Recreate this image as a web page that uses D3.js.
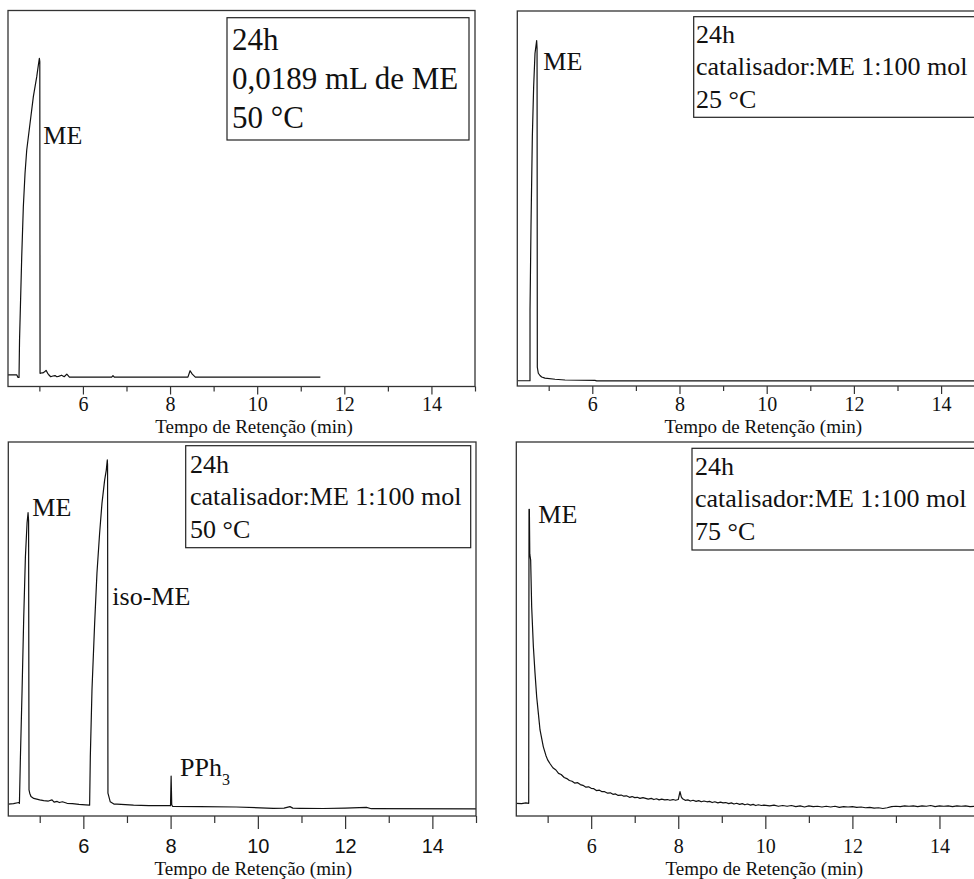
<!DOCTYPE html>
<html>
<head>
<meta charset="utf-8">
<script src="https://cdnjs.cloudflare.com/ajax/libs/d3/7.8.5/d3.min.js"></script>
<style>
   body { margin: 0; background: #fff; }
   svg { display: block; }
   .frame { fill: none; stroke: #333; stroke-width: 1.3; }
   .trace { fill: none; stroke: #111; stroke-width: 1.2; stroke-linejoin: round; }
   .legendBox { fill: #fff; stroke: #222; stroke-width: 1.2; }
   .axis line { stroke: #333; stroke-width: 1.2; }
</style>
</head>
<body>
<div id="chart"></div>
<script>

// x axis (retention time, min)
const xDomain = [4.28, 15]
const majorTicks = [6, 8, 10, 12, 14]
const minorTicks = [5, 7, 9, 11, 13, 15]
const axisTitle = "Tempo de Retenção (min)"

// legends
const legendA = ["24h", "0,0189 mL de ME", "50 °C"]
const legendB = ["24h", "catalisador:ME 1:100 mol", "25 °C"]
const legendC = ["24h", "catalisador:ME 1:100 mol", "50 °C"]
const legendD = ["24h", "catalisador:ME 1:100 mol", "75 °C"]

// chromatograms: [time (min), signal (% of frame height)]
const traceA = [
   [4.28, 3.1], [4.48, 3.1], [4.51, 2.4], [4.533, 2.4], [4.545, 12.4], [4.595, 34.5],
   [4.632, 47.8], [4.671, 56.7], [4.71, 62.9], [4.786, 70.0], [4.862, 77.1], [4.94, 82.4],
   [4.977, 85.5], [5.0, 87.3], [5.01, 86.4], [5.016, 3.5], [5.05, 3.6], [5.08, 3.6],
   [5.12, 3.9], [5.154, 4.3], [5.19, 3.5], [5.21, 3.2], [5.26, 2.6], [5.31, 2.8],
   [5.36, 2.9], [5.40, 2.6], [5.44, 2.7], [5.51, 3.0], [5.57, 2.6], [5.63, 3.3],
   [5.69, 2.5], [6.66, 2.5], [6.69, 2.9], [6.72, 2.5], [8.41, 2.5], [8.46, 4.2],
   [8.51, 3.3], [8.58, 2.5], [11.45, 2.5]
]

const traceB = [
   [4.28, 1.4], [4.571, 1.4], [4.572, 20.3], [4.594, 42.5], [4.625, 66.5], [4.655, 79.8],
   [4.686, 88.7], [4.724, 92.1], [4.733, 90.0], [4.739, 5.0], [4.762, 3.4], [4.80, 2.8],
   [4.839, 2.4], [4.915, 2.1], [5.145, 1.8], [5.374, 1.6], [6.06, 1.5], [6.1, 1.35],
   [15, 1.35]
]

const traceC = [
   [4.28, 3.2], [4.40, 3.3], [4.52, 3.6], [4.535, 3.4], [4.558, 15.9], [4.596, 33.7],
   [4.634, 53.3], [4.672, 69.3], [4.71, 78.3], [4.733, 81.1], [4.745, 79.0], [4.755, 7.0],
   [4.771, 6.1], [4.80, 5.2], [4.863, 4.7], [5.0, 4.3], [5.092, 4.1], [5.2, 4.0],
   [5.282, 4.3], [5.33, 3.7], [5.40, 3.9], [5.45, 3.6], [5.52, 3.8], [5.626, 3.4],
   [5.75, 3.3], [5.9, 3.1], [6.05, 3.0], [6.144, 2.9], [6.16, 15.9], [6.198, 33.7],
   [6.259, 51.5], [6.312, 64.9], [6.373, 75.6], [6.427, 83.6], [6.488, 89.8], [6.526, 92.5],
   [6.549, 95.2], [6.555, 94.0], [6.564, 6.1], [6.617, 3.8], [6.70, 3.2], [6.77, 3.2],
   [7.151, 2.9], [7.5, 2.8], [7.914, 2.75], [7.998, 2.75], [8.012, 10.7], [8.026, 3.0],
   [8.044, 2.6], [8.677, 2.5], [9.5, 2.4], [10.355, 2.05], [10.6, 2.1], [10.736, 2.5],
   [10.8, 2.1], [10.965, 2.05], [11.5, 2.0], [12.0, 2.1], [12.49, 2.3], [12.6, 1.95],
   [15.0, 1.9]
]

const traceD = [
   [4.28, 3.4], [4.40, 3.3], [4.50, 3.5], [4.565, 3.4], [4.572, 82.0], [4.58, 82.0],
   [4.59, 70.0], [4.61, 68.4], [4.633, 56.0], [4.672, 45.3], [4.71, 38.2], [4.748, 31.9],
   [4.786, 27.5], [4.825, 23.0], [4.901, 18.5], [4.96, 16.2], [5.0, 15.0], [5.06, 13.9],
   [5.12, 12.9], [5.19, 12.3], [5.25, 11.4], [5.31, 11.1], [5.38, 10.3], [5.44, 10.0],
   [5.5, 9.5], [5.56, 9.3], [5.62, 8.8], [5.69, 8.9], [5.75, 8.4], [5.81, 8.2],
   [5.88, 7.7], [5.94, 7.8], [6.0, 7.4], [6.06, 7.3], [6.12, 6.8], [6.19, 6.9],
   [6.25, 6.5], [6.31, 6.5], [6.38, 6.1], [6.44, 6.2], [6.5, 5.8], [6.56, 5.9],
   [6.62, 5.5], [6.69, 5.6], [6.75, 5.3], [6.81, 5.4], [6.88, 5.0], [6.94, 5.2],
   [7.0, 4.9], [7.06, 5.0], [7.12, 4.7], [7.19, 4.9], [7.25, 4.7], [7.31, 4.5],
   [7.38, 4.7], [7.44, 4.4], [7.5, 4.6], [7.56, 4.3], [7.62, 4.5], [7.69, 4.3],
   [7.75, 4.4], [7.81, 4.2], [7.88, 4.4], [7.94, 4.2], [8.0, 4.4], [8.04, 6.5],
   [8.07, 5.1], [8.1, 4.6], [8.16, 4.2], [8.22, 4.3], [8.28, 4.0], [8.34, 4.2],
   [8.41, 3.9], [8.47, 4.1], [8.53, 3.8], [8.59, 4.0], [8.66, 3.8], [8.72, 3.9],
   [8.78, 3.6], [8.84, 3.8], [8.91, 3.5], [8.97, 3.7], [9.03, 3.5], [9.09, 3.6],
   [9.16, 3.3], [9.22, 3.5], [9.28, 3.2], [9.34, 3.4], [9.41, 3.1], [9.47, 3.3],
   [9.53, 3.0], [9.59, 3.2], [9.66, 2.9], [9.72, 3.1], [9.78, 2.8], [9.84, 3.0],
   [9.91, 2.8], [9.97, 2.9], [10.1, 2.7], [10.2, 2.9], [10.3, 2.6], [10.4, 2.8],
   [10.5, 2.6], [10.6, 2.8], [10.7, 2.5], [10.8, 2.7], [10.9, 2.4], [11.0, 2.7],
   [11.1, 2.5], [11.2, 2.6], [11.3, 2.4], [11.4, 2.6], [11.5, 2.4], [11.6, 2.6],
   [11.7, 2.3], [11.8, 2.5], [11.9, 2.4], [12.0, 2.5], [12.1, 2.3], [12.2, 2.4],
   [12.3, 2.2], [12.4, 2.3], [12.5, 2.1], [12.6, 2.2], [12.7, 2.0], [12.8, 2.2],
   [12.9, 2.5], [13.0, 2.6], [13.1, 2.5], [13.2, 2.7], [13.3, 2.6], [13.4, 2.7],
   [13.5, 2.5], [13.6, 2.7], [13.7, 2.6], [13.8, 2.8], [13.9, 2.5], [14.0, 2.7],
   [14.1, 2.6], [14.2, 2.7], [14.3, 2.5], [14.4, 2.7], [14.5, 2.6], [14.6, 2.7],
   [14.7, 2.5], [14.8, 2.6], [14.9, 2.5], [15.0, 2.6]
]

const serif = "'Liberation Serif', 'Times New Roman', serif"
const sans = "'Liberation Sans', Arial, sans-serif"

// layout of the four panels
const panels = [
   {
      id: "a", data: traceA, legend: legendA,
      left: 8, top: 10.5, width: 467, height: 376,
      majorTick: 8, minorTick: 5, tickY: 24.5, tickFont: serif, tickSize: 20,
      titleX: 246, titleY: 46.5,
      box: { x: 219, y: 7.2, w: 242, h: 122.3, tx: 224, lines: [39.5, 78.5, 117.5], size: 31 },
      labels: [{ text: "ME", t: 5.09, y: 64.6 }]
   },
   {
      id: "b", data: traceB, legend: legendB,
      left: 517.3, top: 11, width: 467.4, height: 375,
      majorTick: 8, minorTick: 5, tickY: 25, tickFont: serif, tickSize: 20,
      titleX: 246, titleY: 47,
      box: { x: 176.4, y: 5.7, w: 296, h: 100.6, tx: 178.7, lines: [32, 64, 97], size: 26 },
      labels: [{ text: "ME", t: 4.876, y: 84.4 }]
   },
   {
      id: "c", data: traceC, legend: legendC,
      left: 8.3, top: 442, width: 467.7, height: 374,
      majorTick: 13, minorTick: 7, tickY: 37, tickFont: sans, tickSize: 20,
      titleX: 245, titleY: 59,
      box: { x: 177.4, y: 3.7, w: 285, h: 102, tx: 181.7, lines: [31.3, 63, 96], size: 26 },
      labels: [
         { text: "ME", t: 4.83, y: 80.2 },
         { text: "iso-ME", t: 6.665, y: 56.4 },
         { text: "PPh", sub: "3", t: 8.218, y: 10.7 }
      ]
   },
   {
      id: "d", data: traceD, legend: legendD,
      left: 516.3, top: 442, width: 466.7, height: 374,
      majorTick: 13, minorTick: 7, tickY: 37, tickFont: serif, tickSize: 20,
      titleX: 248, titleY: 59,
      box: { x: 175.7, y: 6.3, w: 296, h: 101.7, tx: 178.7, lines: [33, 65.3, 98], size: 26 },
      labels: [{ text: "ME", t: 4.785, y: 78.4 }]
   }
]

const svg = d3.select("#chart").append("svg")
   .attr("width", 974)
   .attr("height", 879)

svg.append("rect")
   .attr("width", 974)
   .attr("height", 879)
   .attr("fill", "#fff")

panels.forEach(function (p) {

   let x = d3.scaleLinear().domain(xDomain).range([0, p.width])
   let y = d3.scaleLinear().domain([0, 100]).range([p.height, 0])

   let g = svg.append("g")
      .attr("class", "panel")
      .attr("transform", "translate(" + p.left + "," + p.top + ")")

   g.append("clipPath")
      .attr("id", "clip-" + p.id)
      .append("rect")
      .attr("width", p.width)
      .attr("height", p.height)

   // minor ticks
   g.append("g")
      .attr("class", "axis minor")
      .attr("transform", "translate(0," + p.height + ")")
      .call(d3.axisBottom(x).tickValues(minorTicks).tickSize(p.minorTick).tickFormat(""))
      .call(a => a.select(".domain").remove())

   // major ticks with labels
   let axis = g.append("g")
      .attr("class", "axis major")
      .attr("transform", "translate(0," + p.height + ")")
      .call(d3.axisBottom(x).tickValues(majorTicks).tickSize(p.majorTick).tickFormat(d3.format("d")))
      .call(a => a.select(".domain").remove())

   axis.attr("font-family", p.tickFont).attr("font-size", p.tickSize)
   axis.selectAll("g.tick text")
      .attr("y", p.tickY)
      .attr("dy", 0)
      .attr("fill", "#111")

   // axis title
   g.append("text")
      .attr("x", p.titleX)
      .attr("y", p.height + p.titleY)
      .attr("text-anchor", "middle")
      .attr("font-family", serif)
      .attr("font-size", 19)
      .attr("fill", "#111")
      .text(axisTitle)

   // chromatogram
   let line = d3.line()
      .x(function (d) { return x(d[0]) })
      .y(function (d) { return y(d[1]) })

   g.append("path")
      .datum(p.data)
      .attr("class", "trace")
      .attr("clip-path", "url(#clip-" + p.id + ")")
      .attr("d", line)

   // frame
   g.append("rect")
      .attr("class", "frame")
      .attr("width", p.width)
      .attr("height", p.height)

   // peak labels
   p.labels.forEach(function (l) {
      let t = g.append("text")
         .attr("x", x(l.t))
         .attr("y", y(l.y))
         .attr("font-family", serif)
         .attr("font-size", 26)
         .attr("fill", "#111")
         .text(l.text)
      if (l.sub) {
         t.append("tspan")
            .attr("font-size", 16)
            .attr("dy", 9)
            .text(l.sub)
      }
   })

   // legend box
   let b = p.box
   g.append("rect")
      .attr("class", "legendBox")
      .attr("x", b.x)
      .attr("y", b.y)
      .attr("width", b.w)
      .attr("height", b.h)

   g.selectAll("text.legend")
      .data(p.legend)
      .join("text")
      .attr("class", "legend")
      .attr("x", b.tx)
      .attr("y", function (d, i) { return b.lines[i] })
      .attr("font-family", serif)
      .attr("font-size", b.size)
      .attr("fill", "#111")
      .text(function (d) { return d })
})

</script>
</body>
</html>
